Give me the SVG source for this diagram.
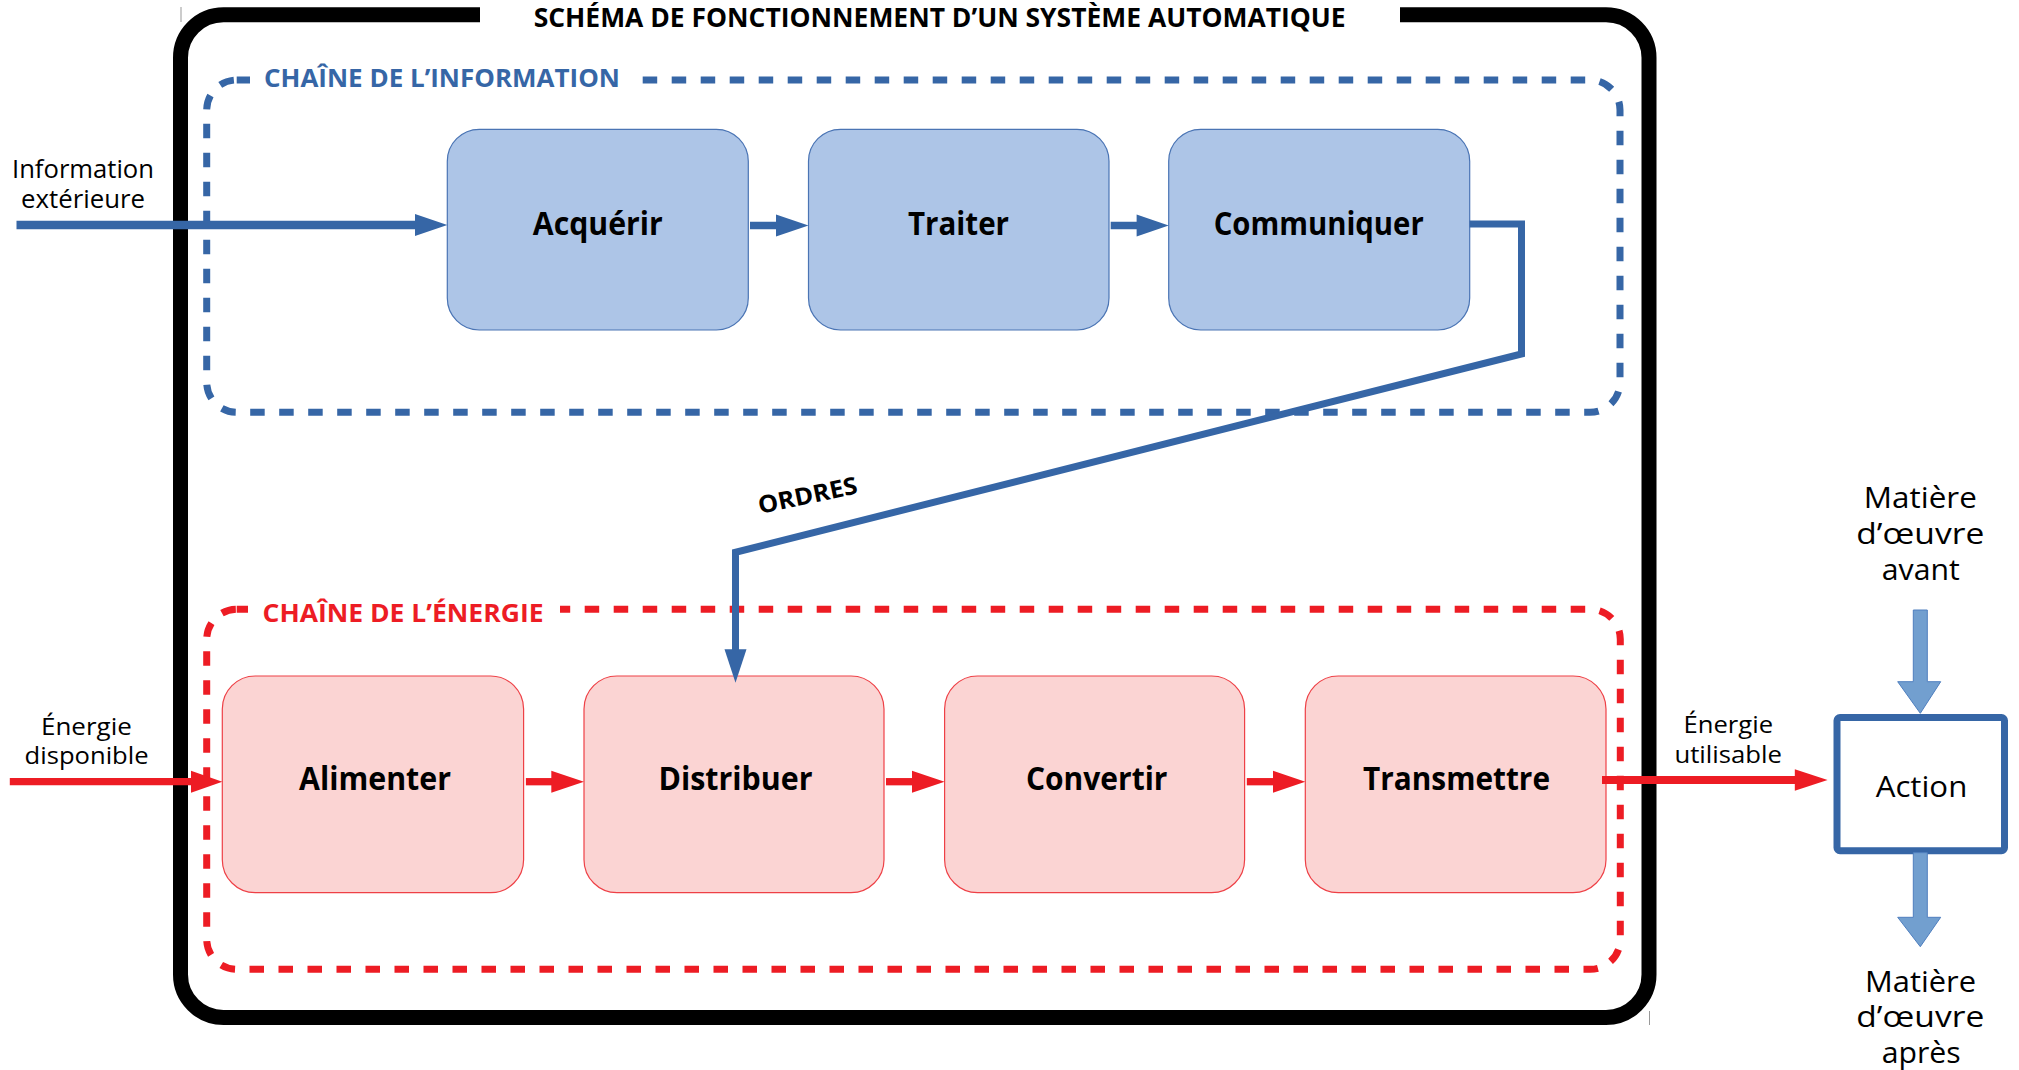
<svg xmlns="http://www.w3.org/2000/svg" width="2019" height="1070" viewBox="0 0 2019 1070">
<style>
text{font-family:"Open Sans","Noto Sans","DejaVu Sans",sans-serif;fill:#000}
.b{font-weight:bold}
.boxt{font-size:32px;font-weight:bold;text-anchor:middle}
.ext{font-size:24px;text-anchor:middle}
.mt{font-size:28.5px;text-anchor:middle}
.ib{fill:#adc5e7;stroke:#4a74b4;stroke-width:1.2}
.eb{fill:#fbd4d3;stroke:#ee4046;stroke-width:1.2}
.bl{stroke:#3666a6;fill:none}
.rd{stroke:#ed1c24;fill:none}
.bh{fill:#3666a6}
.rh{fill:#ed1c24}
.mat{fill:#729fcf;stroke:#4f7fbf;stroke-width:1}
</style>
<rect width="2019" height="1070" fill="#fff"/>

<g id="frame">
<path d="M480 14.8 H223.5 A43 43 0 0 0 180.5 57.8 V974.5 A43 43 0 0 0 223.5 1017.5 H1606 A43 43 0 0 0 1649 974.5 V57.8 A43 43 0 0 0 1606 14.8 H1400" fill="none" stroke="#000" stroke-width="15"/>
<line x1="181" y1="7" x2="181" y2="22" stroke="#999" stroke-width="1"/>
<line x1="1649.5" y1="1011" x2="1649.5" y2="1025" stroke="#999" stroke-width="1"/>
<text class="b" x="939.7" y="27" font-size="26" text-anchor="middle" textLength="812" lengthAdjust="spacingAndGlyphs">SCHÉMA DE FONCTIONNEMENT D’UN SYSTÈME AUTOMATIQUE</text>
</g>

<g id="chaine-information">
<rect x="206.7" y="80" width="1413.3" height="332.3" rx="30" fill="none" stroke="#3666a6" stroke-width="7" stroke-dasharray="14.5 14.5"/>
<rect x="250" y="70" width="382" height="20" fill="#fff"/>
<text class="b" x="264" y="87.3" font-size="25" style="fill:#3666a6" textLength="356" lengthAdjust="spacingAndGlyphs">CHAÎNE DE L’INFORMATION</text>
</g>

<g id="chaine-energie">
<rect x="206.7" y="609.3" width="1413.6" height="360" rx="30" fill="none" stroke="#ed1c24" stroke-width="7" stroke-dasharray="14.5 14.5"/>
<rect x="248" y="599" width="312" height="22" fill="#fff"/>
<text class="b" x="262.5" y="621.7" font-size="25" style="fill:#ed1c24" textLength="281" lengthAdjust="spacingAndGlyphs">CHAÎNE DE L’ÉNERGIE</text>
</g>

<g id="acquerir">
<rect class="ib" x="447.3" y="129.3" width="301" height="200.7" rx="32"/>
<text class="boxt" x="597.8" y="235" textLength="130" lengthAdjust="spacingAndGlyphs">Acquérir</text>
</g>
<g id="traiter">
<rect class="ib" x="808.5" y="129.3" width="300.5" height="200.7" rx="32"/>
<text class="boxt" x="958.5" y="235" textLength="101" lengthAdjust="spacingAndGlyphs">Traiter</text>
</g>
<g id="communiquer">
<rect class="ib" x="1168.7" y="129.3" width="301" height="200.7" rx="32"/>
<text class="boxt" x="1318.7" y="235" textLength="210" lengthAdjust="spacingAndGlyphs">Communiquer</text>
</g>

<g id="alimenter">
<rect class="eb" x="222.3" y="676" width="301.3" height="216.7" rx="33"/>
<text class="boxt" x="375" y="790" textLength="152" lengthAdjust="spacingAndGlyphs">Alimenter</text>
</g>
<g id="distribuer">
<rect class="eb" x="584" y="676" width="300" height="216.7" rx="33"/>
<text class="boxt" x="735.5" y="790" textLength="154" lengthAdjust="spacingAndGlyphs">Distribuer</text>
</g>
<g id="convertir">
<rect class="eb" x="944.6" y="676" width="300" height="216.7" rx="33"/>
<text class="boxt" x="1096.7" y="790" textLength="141.5" lengthAdjust="spacingAndGlyphs">Convertir</text>
</g>
<g id="transmettre">
<rect class="eb" x="1305.3" y="676" width="300.7" height="216.7" rx="33"/>
<text class="boxt" x="1456.5" y="790" textLength="187" lengthAdjust="spacingAndGlyphs">Transmettre</text>
</g>

<g id="action">
<rect x="1837" y="717.5" width="167.5" height="133.2" rx="3" fill="#fff" stroke="#3666a6" stroke-width="7"/>
<text x="1921.5" y="796.7" font-size="29" text-anchor="middle" textLength="91.6" lengthAdjust="spacingAndGlyphs">Action</text>
</g>

<g id="info-exterieure">
<text class="ext" x="83" y="177.5" style="font-size:25px" textLength="142" lengthAdjust="spacingAndGlyphs">Information</text>
<text class="ext" x="83" y="208" style="font-size:25px" textLength="124" lengthAdjust="spacingAndGlyphs">extérieure</text>
</g>
<g id="energie-disponible">
<text class="ext" x="86.4" y="735" textLength="90.7" lengthAdjust="spacingAndGlyphs">Énergie</text>
<text class="ext" x="86.6" y="764" textLength="124" lengthAdjust="spacingAndGlyphs">disponible</text>
</g>
<g id="energie-utilisable">
<text class="ext" x="1728.3" y="733.3" textLength="89.5" lengthAdjust="spacingAndGlyphs">Énergie</text>
<text class="ext" x="1728.2" y="763.3" textLength="107.6" lengthAdjust="spacingAndGlyphs">utilisable</text>
</g>
<g id="matiere-avant">
<text class="mt" x="1920.3" y="508.3" textLength="113" lengthAdjust="spacingAndGlyphs">Matière</text>
<text class="mt" x="1920.3" y="544" textLength="128" lengthAdjust="spacingAndGlyphs">d’œuvre</text>
<text class="mt" x="1920.8" y="580" textLength="78" lengthAdjust="spacingAndGlyphs">avant</text>
</g>
<g id="matiere-apres">
<text class="mt" x="1920.5" y="991.7" textLength="111" lengthAdjust="spacingAndGlyphs">Matière</text>
<text class="mt" x="1920.3" y="1026.7" textLength="128" lengthAdjust="spacingAndGlyphs">d’œuvre</text>
<text class="mt" x="1921.2" y="1062.5" textLength="79" lengthAdjust="spacingAndGlyphs">après</text>
</g>

<g id="connectors">
<line class="bl" x1="16.5" y1="225" x2="416" y2="225" stroke-width="8.7"/>
<polygon class="bh" points="415,214 447.3,225 415,236"/>
<line class="bl" x1="750" y1="225.5" x2="777" y2="225.5" stroke-width="7.5"/>
<polygon class="bh" points="776,214.5 808.5,225.5 776,236.5"/>
<line class="bl" x1="1110.7" y1="225.5" x2="1137.6" y2="225.5" stroke-width="7.5"/>
<polygon class="bh" points="1136.6,214.5 1168.7,225.5 1136.6,236.5"/>
<polyline class="bl" points="1469.6,224 1521.5,224 1521.5,354 735.5,552.3 735.5,650.3" stroke-width="7" stroke-linejoin="miter"/>
<polygon class="bh" points="724.5,649.3 735.5,682.7 746.5,649.3"/>
<text class="b" x="760" y="514" font-size="24" transform="rotate(-12 760 514)" textLength="101" lengthAdjust="spacingAndGlyphs">ORDRES</text>
<line class="rd" x1="9.8" y1="781.7" x2="192" y2="781.7" stroke-width="7.3"/>
<polygon class="rh" points="191,770.7 222.3,781.7 191,792.7"/>
<line class="rd" x1="525.9" y1="781.7" x2="552.3" y2="781.7" stroke-width="7.3"/>
<polygon class="rh" points="551.3,770.7 584,781.7 551.3,792.7"/>
<line class="rd" x1="886" y1="781.7" x2="913" y2="781.7" stroke-width="7.3"/>
<polygon class="rh" points="912,770.7 944.6,781.7 912,792.7"/>
<line class="rd" x1="1246.8" y1="781.7" x2="1274" y2="781.7" stroke-width="7.3"/>
<polygon class="rh" points="1273,770.7 1305.3,781.7 1273,792.7"/>
<line class="rd" x1="1602" y1="780" x2="1796" y2="780" stroke-width="8"/>
<polygon class="rh" points="1794.8,769.3 1827.6,780 1794.8,790.7"/>
<polygon class="mat" points="1913.3,610 1927.3,610 1927.3,681.7 1940.7,681.7 1920.3,713.3 1897.7,681.7 1913.3,681.7"/>
<polygon class="mat" points="1913.3,852.7 1927.3,852.7 1927.3,917.3 1940.7,917.3 1920.3,946.7 1897.7,917.3 1913.3,917.3"/>
</g>
</svg>
